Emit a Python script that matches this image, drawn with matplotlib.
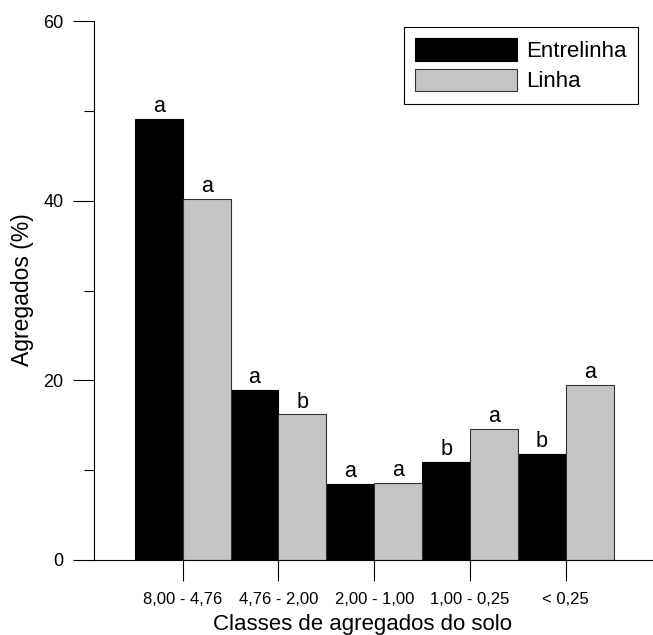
import numpy as np
import matplotlib
matplotlib.use('Agg')
import matplotlib.pyplot as plt

# --------------------------------------------------------------------------- #
# Data
# --------------------------------------------------------------------------- #
classes = ['8,00 - 4,76', '4,76 - 2,00', '2,00 - 1,00', '1,00 - 0,25', '< 0,25']
entrelinha = [49.1, 18.9, 8.5, 10.9, 11.8]
linha = [40.2, 16.2, 8.6, 14.6, 19.5]
letrasEntrelinha = ['a', 'a', 'a', 'b', 'b']
letrasLinha = ['a', 'b', 'a', 'a', 'a']

# --------------------------------------------------------------------------- #
# Plot
# --------------------------------------------------------------------------- #
plt.rcParams['font.family'] = ['Liberation Sans', 'DejaVu Sans']

fig = plt.figure(figsize=(6.53, 6.35), dpi=100)
ax = fig.add_axes([94/653, 75/635, 1 - 94/653, (560 - 21)/635])

x = np.arange(len(classes))
w = 0.5
ax.bar(x - w/2, entrelinha, width=w, color='black', edgecolor='black',
       linewidth=0.8, label='Entrelinha')
ax.bar(x + w/2, linha, width=w, color='#c4c4c4', edgecolor='#333333',
       linewidth=0.8, label='Linha')

# letters of the mean comparison test
for xi, v, l in zip(x - w/2, entrelinha, letrasEntrelinha):
  ax.text(xi, v + 0.2, l, ha='center', va='bottom', fontsize=15.5)
for xi, v, l in zip(x + w/2, linha, letrasLinha):
  ax.text(xi, v + 0.2, l, ha='center', va='bottom', fontsize=15.5)

ax.set_xlim(-0.926, 4.91)
ax.set_ylim(0, 60)
ax.spines['top'].set_visible(False)
ax.spines['right'].set_visible(False)
ax.spines['left'].set_linewidth(0.8)
ax.spines['bottom'].set_linewidth(0.8)

ax.set_xticks(x)
ax.set_xticklabels(classes, fontsize=12)
ax.set_yticks([0, 20, 40, 60])
ax.set_yticks([10, 30, 50], minor=True)
ax.tick_params(axis='x', direction='out', length=15, width=0.8, pad=8)
ax.tick_params(axis='y', which='major', direction='out', length=15, width=0.8,
               labelsize=13, pad=7)
ax.tick_params(axis='y', which='minor', direction='out', length=7.5, width=0.8)

ax.set_xlabel('Classes de agregados do solo', fontsize=16)
ax.xaxis.set_label_coords(0.48, -0.1)
ax.set_ylabel('Agregados (%)', fontsize=16.5)
ax.yaxis.set_label_coords(-0.107, 0.502)

leg = ax.legend(loc='upper right', bbox_to_anchor=(0.973, 0.989), fontsize=16,
                fancybox=False, edgecolor='black', framealpha=1,
                handlelength=4.6, handleheight=1.2, handletextpad=0.4,
                labelspacing=0.3, borderpad=0.5, borderaxespad=0)
leg.get_frame().set_linewidth(0.8)

plt.savefig('out.png', dpi=100)
